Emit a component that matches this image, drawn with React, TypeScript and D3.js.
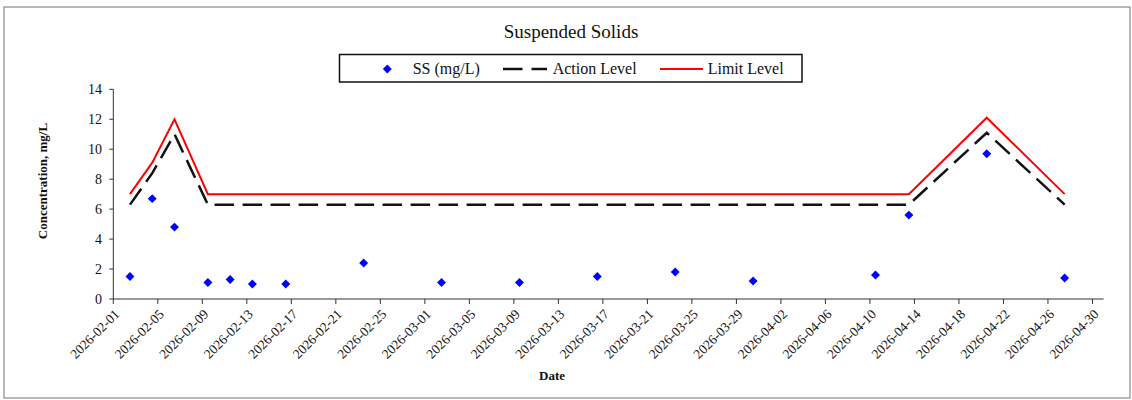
import React from "react";
import * as d3 from "d3";

// sample dates and readings
const sampleDates = [
  "2026-02-02", "2026-02-04", "2026-02-06", "2026-02-09", "2026-02-11",
  "2026-02-13", "2026-02-16", "2026-02-23", "2026-03-02", "2026-03-09",
  "2026-03-16", "2026-03-23", "2026-03-30", "2026-04-10", "2026-04-13",
  "2026-04-20", "2026-04-27"
];
const ssValues = [1.5, 6.7, 4.8, 1.1, 1.3, 1.0, 1.0, 2.4, 1.1, 1.1, 1.5, 1.8, 1.2, 1.6, 5.6, 9.7, 1.4];
const actionLevel = [6.3, 8.4, 11.0, 6.3, 6.3, 6.3, 6.3, 6.3, 6.3, 6.3, 6.3, 6.3, 6.3, 6.3, 6.3, 11.1, 6.3];
const limitLevel = [7.0, 9.1, 12.0, 7.0, 7.0, 7.0, 7.0, 7.0, 7.0, 7.0, 7.0, 7.0, 7.0, 7.0, 7.0, 12.1, 7.0];
const yTicks = [0, 2, 4, 6, 8, 10, 12, 14];
const xStart = "2026-02-01";
const xEnd = "2026-05-01";

const W = 1132;
const H = 400;
const plot = { left: 113.3, right: 1103.6, top: 89.3, bottom: 299 };
const FONT = "'Liberation Serif', 'Times New Roman', serif";

const parse = d3.utcParse("%Y-%m-%d");
const fmt = d3.utcFormat("%Y-%m-%d");
const HALF_DAY = 12 * 3600 * 1000;

type Row = { date: Date; ss: number; action: number; limit: number };

const rows: Row[] = sampleDates.map((d, i) => ({
  date: parse(d) as Date,
  ss: ssValues[i],
  action: actionLevel[i],
  limit: limitLevel[i]
}));

const App = () => {
  const x = d3
    .scaleUtc()
    .domain([parse(xStart) as Date, parse(xEnd) as Date])
    .range([plot.left, plot.right]);
  const y = d3.scaleLinear().domain([0, 14]).range([plot.bottom, plot.top]);

  // excel date axis puts points in the middle of the day
  const px = (d: Date) => x(new Date(d.getTime() + HALF_DAY));

  const xTicks = d3.utcDay.range(parse(xStart) as Date, parse(xEnd) as Date, 4);

  const actionLine = d3
    .line<Row>()
    .x(d => px(d.date))
    .y(d => y(d.action));
  const limitLine = d3
    .line<Row>()
    .x(d => px(d.date))
    .y(d => y(d.limit));

  const diamond = d3.symbol().type(d3.symbolSquare).size(40)();

  return (
    <svg
      width={W}
      height={H}
      style={{ position: "absolute", left: 0, top: 0, background: "#fff" }}
      fontFamily={FONT}
    >
      <rect x={4} y={7} width={1126} height={391} fill="#fff" stroke="#777" strokeWidth={1} />

      <text x={571} y={38} textAnchor="middle" fontSize={19} fill="#111">
        Suspended Solids
      </text>

      {/* legend */}
      <g>
        <rect x={339.5} y={54.5} width={462.5} height={27.5} fill="#fff" stroke="#111" strokeWidth={1.5} />
        <path d={diamond} transform="translate(387.3,69) rotate(45)" fill="#0000ff" />
        <text x={412.7} y={74} fontSize={16} fill="#111">SS (mg/L)</text>
        <line x1={503} x2={547} y1={69} y2={69} stroke="#111" strokeWidth={2.5} strokeDasharray="19.5,9" />
        <text x={552.7} y={74} fontSize={16} fill="#111">Action Level</text>
        <line x1={660} x2={703} y1={69} y2={69} stroke="#ff0000" strokeWidth={2} />
        <text x={707.7} y={74} fontSize={16} fill="#111">Limit Level</text>
      </g>

      {/* y axis */}
      <g>
        <line x1={plot.left} x2={plot.left} y1={plot.top} y2={plot.bottom} stroke="#333" strokeWidth={1} />
        {yTicks.map(t => (
          <g key={t}>
            <line x1={plot.left - 4} x2={plot.left} y1={y(t)} y2={y(t)} stroke="#333" strokeWidth={1} />
            <text x={102} y={y(t)} dy="0.35em" textAnchor="end" fontSize={14} fill="#111">
              {t}
            </text>
          </g>
        ))}
      </g>

      {/* x axis */}
      <g>
        <line x1={plot.left} x2={plot.right} y1={plot.bottom} y2={plot.bottom} stroke="#333" strokeWidth={1} />
        {xTicks.map(t => (
          <g key={t.getTime()}>
            <line x1={x(t)} x2={x(t)} y1={plot.bottom} y2={plot.bottom + 5} stroke="#333" strokeWidth={1} />
            <text
              transform={`translate(${x(t) + 7},${plot.bottom + 16}) rotate(-45)`}
              textAnchor="end"
              fontSize={13.5}
              fill="#111"
            >
              {fmt(t)}
            </text>
          </g>
        ))}
      </g>

      <text
        transform="translate(47,181) rotate(-90)"
        textAnchor="middle"
        fontSize={13}
        fontWeight="bold"
        fill="#111"
      >
        Concentration, mg/L
      </text>
      <text x={552} y={380} textAnchor="middle" fontSize={13} fontWeight="bold" fill="#111">
        Date
      </text>

      <path d={limitLine(rows) || ""} fill="none" stroke="#ff0000" strokeWidth={2} />
      <path d={actionLine(rows) || ""} fill="none" stroke="#111" strokeWidth={2.5} strokeDasharray="19.5,8.5" />

      {rows.map((d, i) => (
        <path
          key={i}
          d={diamond}
          transform={`translate(${px(d.date)},${y(d.ss)}) rotate(45)`}
          fill="#0000ff"
        />
      ))}
    </svg>
  );
};

App.displayName = "App";
export default App;
